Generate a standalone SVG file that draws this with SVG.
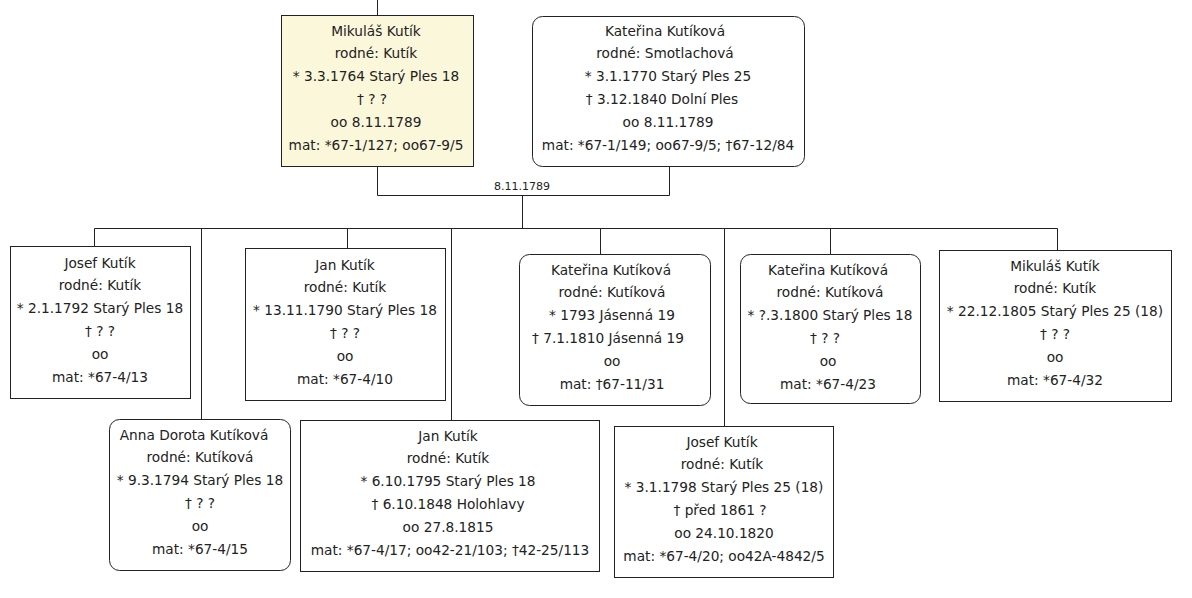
<svg xmlns="http://www.w3.org/2000/svg" width="1192" height="598" viewBox="0 0 1192 598">
<style>
.box{fill:#fff;stroke:#222;stroke-width:1}
.hl{fill:#fbf7da}
.t{font-family:"DejaVu Sans",Verdana,sans-serif;font-size:13.7px;fill:#222;text-anchor:middle}
.lbl{font-family:"DejaVu Sans",Verdana,sans-serif;font-size:11px;fill:#222;text-anchor:middle}
.c{fill:none;stroke:#222;stroke-width:1}
</style>
<rect width="1192" height="598" fill="#fff"/>
<g id="connectors">
<path class="c" d="M377.5,0V15"/>
<path class="c" d="M377.5,167V195.5H669.5V167"/>
<path class="c" d="M522.5,195.5V228.5"/>
<path class="c" d="M94.5,246V228.5H1057.5V250"/>
<path class="c" d="M201.5,228.5V419"/>
<path class="c" d="M347.5,228.5V248"/>
<path class="c" d="M451.5,228.5V420"/>
<path class="c" d="M600.5,228.5V254"/>
<path class="c" d="M724.5,228.5V426"/>
<path class="c" d="M830.5,228.5V254"/>
<text class="lbl" x="522" y="190">8.11.1789</text>
</g>
<g id="n-mikulas-father">
<rect class="box hl" x="281.5" y="15.5" width="192" height="151"/>
<text class="t" x="376" y="36">Mikuláš Kutík</text>
<text class="t" x="376" y="58">rodné: Kutík</text>
<text class="t" x="376" y="81">* 3.3.1764 Starý Ples 18</text>
<text class="t" x="372" y="104">† ? ?</text>
<text class="t" x="376" y="127">oo 8.11.1789</text>
<text class="t" x="376" y="150">mat: *67-1/127; oo67-9/5</text>
</g>
<g id="n-katerina-mother">
<rect class="box" x="532.5" y="16.5" width="272" height="150" rx="10"/>
<text class="t" x="665" y="36">Kateřina Kutíková</text>
<text class="t" x="665" y="58">rodné: Smotlachová</text>
<text class="t" x="668" y="81">* 3.1.1770 Starý Ples 25</text>
<text class="t" x="662" y="104">† 3.12.1840 Dolní Ples</text>
<text class="t" x="668" y="127">oo 8.11.1789</text>
<text class="t" x="668" y="150">mat: *67-1/149; oo67-9/5; †67-12/84</text>
</g>
<g id="n-josef1">
<rect class="box" x="10.5" y="246.5" width="180" height="152"/>
<text class="t" x="100" y="268">Josef Kutík</text>
<text class="t" x="100" y="290">rodné: Kutík</text>
<text class="t" x="100" y="313">* 2.1.1792 Starý Ples 18</text>
<text class="t" x="100" y="336">† ? ?</text>
<text class="t" x="100" y="359">oo</text>
<text class="t" x="100" y="382">mat: *67-4/13</text>
</g>
<g id="n-jan1">
<rect class="box" x="245.5" y="248.5" width="200" height="152"/>
<text class="t" x="345" y="270">Jan Kutík</text>
<text class="t" x="345" y="292">rodné: Kutík</text>
<text class="t" x="345" y="315">* 13.11.1790 Starý Ples 18</text>
<text class="t" x="345" y="338">† ? ?</text>
<text class="t" x="345" y="361">oo</text>
<text class="t" x="345" y="384">mat: *67-4/10</text>
</g>
<g id="n-katerina2">
<rect class="box" x="519.5" y="254.5" width="191" height="151" rx="10"/>
<text class="t" x="611" y="275">Kateřina Kutíková</text>
<text class="t" x="612" y="297">rodné: Kutíková</text>
<text class="t" x="612" y="320">* 1793 Jásenná 19</text>
<text class="t" x="608" y="343">† 7.1.1810 Jásenná 19</text>
<text class="t" x="612" y="366">oo</text>
<text class="t" x="612" y="389">mat: †67-11/31</text>
</g>
<g id="n-katerina3">
<rect class="box" x="740.5" y="254.5" width="180" height="149" rx="10"/>
<text class="t" x="828" y="275">Kateřina Kutíková</text>
<text class="t" x="830" y="297">rodné: Kutíková</text>
<text class="t" x="830" y="320">* ?.3.1800 Starý Ples 18</text>
<text class="t" x="825" y="343">† ? ?</text>
<text class="t" x="828" y="366">oo</text>
<text class="t" x="828" y="389">mat: *67-4/23</text>
</g>
<g id="n-mikulas2">
<rect class="box" x="939.5" y="250.5" width="232" height="151"/>
<text class="t" x="1055" y="271">Mikuláš Kutík</text>
<text class="t" x="1055" y="293">rodné: Kutík</text>
<text class="t" x="1055" y="316">* 22.12.1805 Starý Ples 25 (18)</text>
<text class="t" x="1055" y="339">† ? ?</text>
<text class="t" x="1055" y="362">oo</text>
<text class="t" x="1055" y="385">mat: *67-4/32</text>
</g>
<g id="n-anna">
<rect class="box" x="109.5" y="419.5" width="181" height="151" rx="10"/>
<text class="t" x="194" y="440">Anna Dorota Kutíková</text>
<text class="t" x="200" y="462">rodné: Kutíková</text>
<text class="t" x="200" y="485">* 9.3.1794 Starý Ples 18</text>
<text class="t" x="200" y="508">† ? ?</text>
<text class="t" x="200" y="531">oo</text>
<text class="t" x="200" y="554">mat: *67-4/15</text>
</g>
<g id="n-jan2">
<rect class="box" x="300.5" y="420.5" width="299" height="151"/>
<text class="t" x="448" y="441">Jan Kutík</text>
<text class="t" x="448" y="463">rodné: Kutík</text>
<text class="t" x="448" y="486">* 6.10.1795 Starý Ples 18</text>
<text class="t" x="448" y="509">† 6.10.1848 Holohlavy</text>
<text class="t" x="448" y="532">oo 27.8.1815</text>
<text class="t" x="450" y="555">mat: *67-4/17; oo42-21/103; †42-25/113</text>
</g>
<g id="n-josef2">
<rect class="box" x="614.5" y="426.5" width="219" height="151"/>
<text class="t" x="722" y="447">Josef Kutík</text>
<text class="t" x="722" y="469">rodné: Kutík</text>
<text class="t" x="724" y="492">* 3.1.1798 Starý Ples 25 (18)</text>
<text class="t" x="720" y="515">† před 1861 ?</text>
<text class="t" x="724" y="538">oo 24.10.1820</text>
<text class="t" x="724" y="561">mat: *67-4/20; oo42A-4842/5</text>
</g>
</svg>
